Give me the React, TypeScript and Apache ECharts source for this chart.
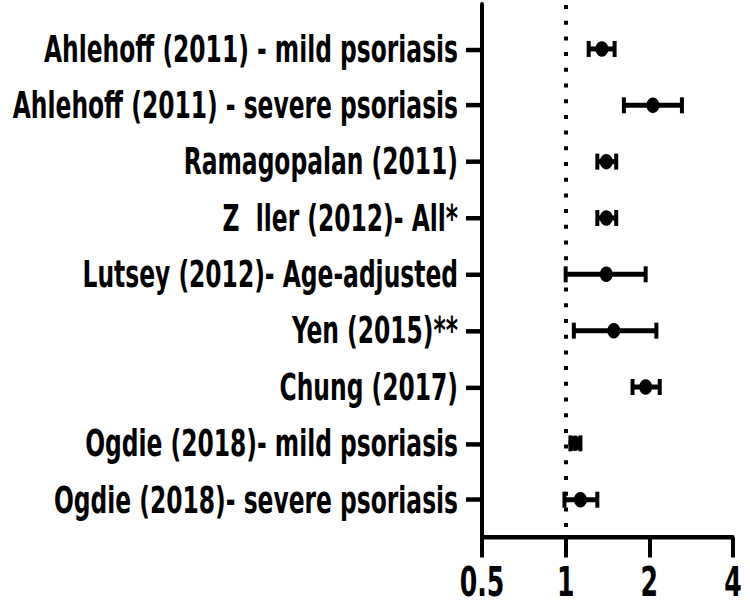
import React, { useEffect, useRef } from "react";
import * as echarts from "echarts";

const studies = [
  "Ahlehoff (2011) - mild psoriasis",
  "Ahlehoff (2011) - severe psoriasis",
  "Ramagopalan (2011)",
  "Z\u00a0\u00a0ller (2012)- All*",
  "Lutsey (2012)- Age-adjusted",
  "Yen (2015)**",
  "Chung (2017)",
  "Ogdie (2018)- mild psoriasis",
  "Ogdie (2018)- severe psoriasis",
];
const estimates = [1.35, 2.06, 1.4, 1.4, 1.4, 1.49, 1.94, 1.08, 1.13];
const lowerCI = [1.21, 1.62, 1.3, 1.3, 1.0, 1.07, 1.74, 1.04, 0.99];
const upperCI = [1.5, 2.62, 1.52, 1.52, 1.94, 2.12, 2.18, 1.13, 1.3];
const xTicks = [0.5, 1, 2, 4];
const rowIndex = studies.map((_, i) => i);

const FONT = '"Liberation Sans Narrow", "DejaVu Sans Condensed", "Liberation Sans", sans-serif';
// The reference uses a tall condensed face: draw at width 750 and stretch vertically.
const K = 1.45;
const W = 750;
const H = 611 / K;

export default function App() {
  const ref = useRef<HTMLDivElement>(null);
  useEffect(() => {
    document.body.style.margin = "0";
    if (!ref.current) return;
    const chart = echarts.init(ref.current, undefined, { renderer: "svg" });
    const ciData = studies.map((_, i) => [lowerCI[i], upperCI[i], i]);
    const pointData = studies.map((_, i) => [estimates[i], i]);
    chart.setOption({
      animation: false,
      backgroundColor: "#fff",
      grid: {
        left: 482,
        right: 17,
        top: 5 / K,
        bottom: 73 / K,
        containLabel: false,
        outerBoundsMode: "none",
      },
      xAxis: {
        type: "log",
        logBase: 2,
        min: xTicks[0],
        max: xTicks[xTicks.length - 1],
        axisLine: { show: true, onZero: false, lineStyle: { color: "#000", width: 4.5 / K } },
        axisTick: { show: true, length: 20 / K, lineStyle: { color: "#000", width: 4 } },
        splitLine: { show: false },
        axisLabel: {
          color: "#000",
          fontFamily: FONT,
          fontWeight: "bold",
          fontSize: 28,
          margin: 17,
          formatter: (v: number) => String(+v.toFixed(2)),
        },
      },
      yAxis: {
        type: "value",
        inverse: true,
        min: -0.78,
        max: 8.67,
        axisLine: { show: true, onZero: false, lineStyle: { color: "#000", width: 4 } },
        axisTick: {
          show: true,
          length: 16,
          customValues: rowIndex,
          lineStyle: { color: "#000", width: 4.5 / K },
        },
        splitLine: { show: false },
        axisLabel: {
          color: "#000",
          fontFamily: FONT,
          fontWeight: "bold",
          fontSize: 26,
          margin: 24,
          customValues: rowIndex,
          formatter: (v: number) => studies[Math.round(v)] ?? "",
        },
      },
      series: [
        {
          type: "custom",
          data: ciData,
          renderItem: (params: any, api: any) => {
            const lo = api.coord([api.value(0), api.value(2)]);
            const hi = api.coord([api.value(1), api.value(2)]);
            const h = 8 / K;
            return {
              type: "group",
              children: [
                {
                  type: "line",
                  shape: { x1: lo[0], y1: lo[1], x2: hi[0], y2: hi[1] },
                  style: { stroke: "#000", lineWidth: 5 / K },
                },
                {
                  type: "line",
                  shape: { x1: lo[0], y1: lo[1] - h, x2: lo[0], y2: lo[1] + h },
                  style: { stroke: "#000", lineWidth: 4 },
                },
                {
                  type: "line",
                  shape: { x1: hi[0], y1: hi[1] - h, x2: hi[0], y2: hi[1] + h },
                  style: { stroke: "#000", lineWidth: 4 },
                },
              ],
            };
          },
          z: 2,
        },
        {
          type: "scatter",
          data: pointData,
          symbol: "circle",
          symbolSize: [13, 15.5 / K],
          itemStyle: { color: "#000", opacity: 1 },
          z: 3,
          markLine: {
            silent: true,
            symbol: ["none", "none"],
            label: { show: false },
            lineStyle: { color: "#000", width: 4, type: [4 / K, 11.7 / K], opacity: 1 },
            data: [{ xAxis: 1 }],
          },
        },
      ],
    });
    return () => chart.dispose();
  }, []);
  return (
    <div style={{ width: W, height: 611, overflow: "hidden" }}>
      <div
        ref={ref}
        style={{ width: W, height: H, transform: `scaleY(${K})`, transformOrigin: "0 0" }}
      />
    </div>
  );
}
